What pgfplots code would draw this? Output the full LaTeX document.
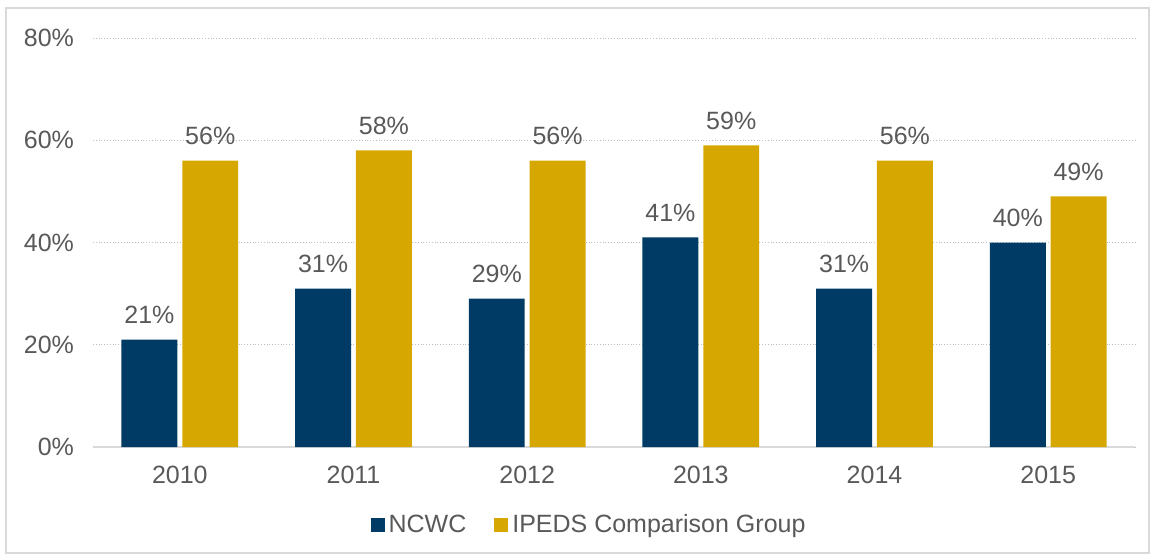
\documentclass[border=0pt]{standalone}
\usepackage{pgfplots}
\pgfplotsset{compat=1.18}
\usepackage{fontspec}
\setmainfont{Liberation Sans}
\definecolor{navy}{HTML}{003B66}
\definecolor{gold}{HTML}{D5A700}
\definecolor{txt}{HTML}{595959}
\definecolor{gridc}{HTML}{BFBFBF}
\definecolor{axc}{HTML}{D9D9D9}
\begin{document}
\begin{tikzpicture}
\path (0,0) rectangle (577.5pt,278.5pt);
\draw[axc, line width=1pt] (3pt,2pt) rectangle (574.5pt,274.5pt);
\begin{axis}[
  at={(46.5pt,55pt)}, anchor=south west,
  scale only axis, width=521pt, height=204.5pt,
  xmin=-0.5, xmax=5.5, ymin=0, ymax=80,
  xtick=data, xticklabels={2010,2011,2012,2013,2014,2015},
  ytick={0,20,40,60,80},
  yticklabel={\pgfmathprintnumber{\tick}\%},
  /pgf/number format/assume math mode=true,
  major tick length=0pt,
  axis y line*=left, axis x line*=bottom,
  x axis line style={-, axc, line width=1pt},
  y axis line style={draw=none},
  ymajorgrids, grid style={gridc, densely dotted, line width=0.4pt},
  ybar, bar width=0.322,
  tick label style={font=\fontsize{12.5}{15}\selectfont, text=txt},
  xticklabel style={yshift=-6pt},
  yticklabel style={xshift=-6pt},
  nodes near coords={\pgfmathprintnumber{\pgfplotspointmeta}\%},
  every node near coord/.append style={font=\fontsize{12.5}{15}\selectfont, text=txt, yshift=4.5pt, /pgf/number format/assume math mode=true},
  legend style={at={(0.477,-0.191)}, anchor=center, draw=none, legend columns=2,
    font=\fontsize{12.5}{15}\selectfont, text=txt,
    /tikz/every even column/.append style={column sep=12pt}},
  legend image code/.code={\fill[#1] (0pt,-3.5pt) rectangle (7pt,3.5pt);},
]
\addplot[fill=navy, draw=none, bar shift=-0.175] coordinates {
  (0,21) (1,31) (2,29) (3,41) (4,31) (5,40)};
\addplot[fill=gold, draw=none, bar shift=0.175] coordinates {
  (0,56) (1,58) (2,56) (3,59) (4,56) (5,49)};
\legend{NCWC, IPEDS Comparison Group}
\end{axis}
\end{tikzpicture}
\end{document}
